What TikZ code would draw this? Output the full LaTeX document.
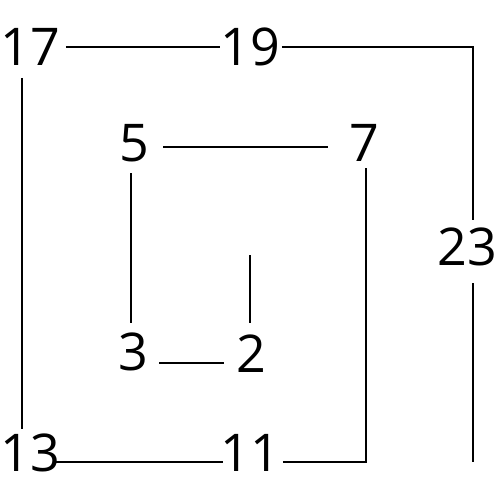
\documentclass[tikz,border=0pt]{standalone}
\usepackage{fontspec}
\setmainfont{Open Sans}
\begin{document}
\begin{tikzpicture}[x=1pt,y=-1pt,
  num/.style={inner sep=0pt, font=\fontsize{52}{58}\selectfont},
  link/.style={line width=2pt, black}]
\useasboundingbox (0,0) rectangle (500,500);
\node[num] (n17) at (30,47) {17};
\node[num] (n19) at (250,47) {19};
\node[num] (n5) at (134,143) {5};
\node[num] (n7) at (364,143) {7};
\node[num] (n23) at (467,247) {23};
\node[num] (n3) at (133,352) {3};
\node[num] (n2) at (251,354) {2};
\node[num] (n13) at (30,453) {13};
\node[num] (n11) at (250,453) {11};
\coordinate (e23) at (473,462);
\coordinate (e2) at (250,255);
% outer
\draw[link] ([xshift=6pt]n17.east) -- (n19.west);
\draw[link] ([xshift=2pt]n19.east) -| ([xshift=6pt,yshift=8pt]n23.north);
\draw[link] ([xshift=6pt,yshift=-17pt]n23.south) -- (e23);
\draw[link] ([xshift=-8pt,yshift=-12pt]n17.south) -- ([xshift=-8pt,yshift=5pt]n13.north);
\draw[link] ([xshift=-5pt,yshift=-9pt]n13.east) -- ([xshift=3pt,yshift=-9pt]n11.west);
\draw[link] ([xshift=3pt,yshift=-9pt]n11.east) -| ([xshift=2pt,yshift=-6pt]n7.south);
% inner
\draw[link] ([xshift=14pt,yshift=-4pt]n5.east) -- ([xshift=-21pt,yshift=-4pt]n7.west);
\draw[link] ([xshift=-3pt,yshift=-11pt]n5.south) -- ([xshift=-2pt,yshift=10pt]n3.north);
\draw[link] ([xshift=11pt,yshift=-11pt]n3.east) -- ([xshift=-12pt,yshift=-9pt]n2.west);
\draw[link] ([xshift=-1pt,yshift=12pt]n2.north) -- (e2);
\end{tikzpicture}
\end{document}
